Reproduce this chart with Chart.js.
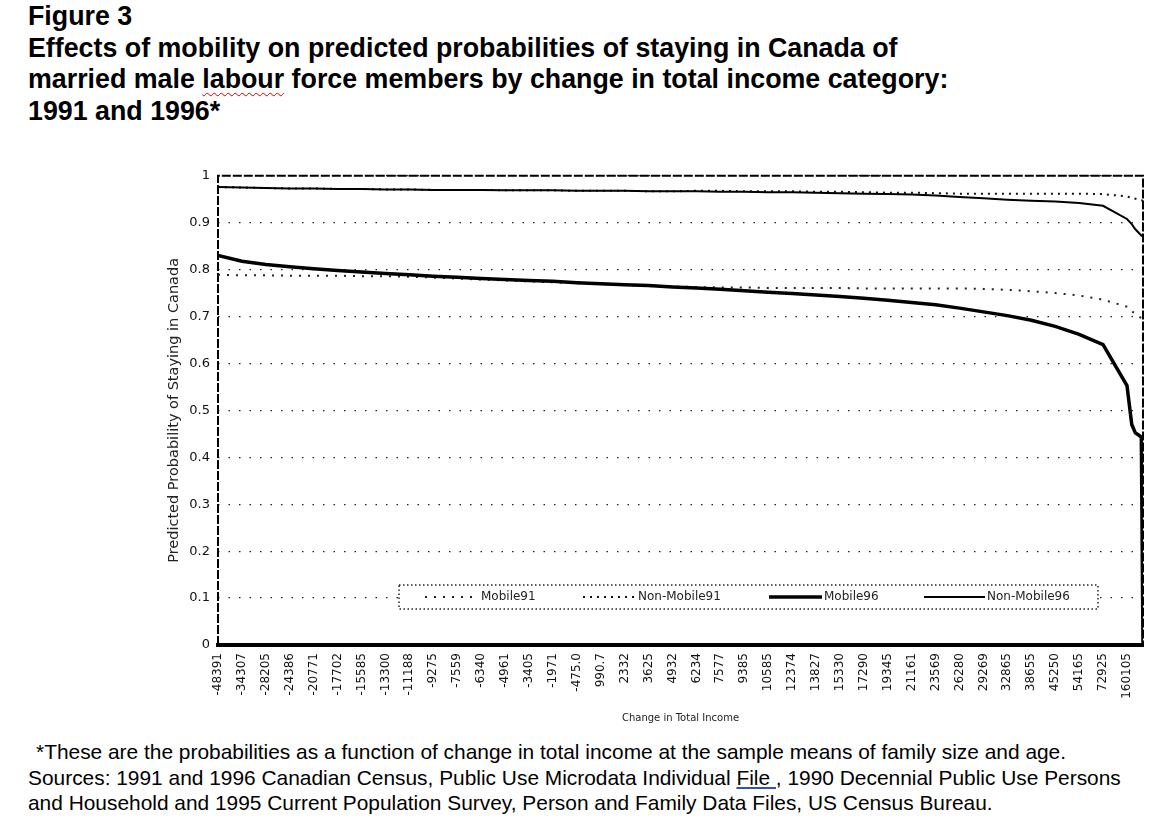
<!DOCTYPE html>
<html>
<head>
<meta charset="utf-8">
<title>Figure 3</title>
<script src="https://cdn.jsdelivr.net/npm/chart.js@4.4.1/dist/chart.umd.min.js"></script>
<style>
  body { margin: 0; background: #fff; width: 1169px; height: 820px; position: relative; overflow: hidden;
         font-family: "Liberation Sans", Arial, sans-serif; color: #000; }
  #title { position: absolute; left: 28px; top: 1px; font-weight: bold; font-size: 26.8px; line-height: 31.7px; white-space: nowrap; }
  .squiggle { text-decoration: underline wavy #d00000; text-decoration-thickness: 1px; text-underline-offset: 4px; }
  #chartBox { position: absolute; left: 150px; top: 160px; width: 1010px; height: 575px; }
  #note { position: absolute; left: 28px; top: 739px; font-size: 20.9px; line-height: 25.5px; white-space: nowrap; }
  .link { text-decoration: underline #3050c0; }
</style>
</head>
<body>
<div id="title">
  Figure 3<br>
  Effects of mobility on predicted probabilities of staying in Canada of<br>
  married male <span class="squiggle">labour</span> force members by change in total income category:<br>
  1991 and 1996*
</div>
<div id="chartBox"><canvas id="grafico"></canvas></div>
<div id="note">
  <span style="margin-left:8px">*These are the probabilities as a function of change in total income at the sample means of family size and age.</span><br>
  Sources: 1991 and 1996 Canadian Census, Public Use Microdata Individual <span class="link">File ,</span> 1990 Decennial Public Use Persons<br>
  and Household and 1995 Current Population Survey, Person and Family Data Files, US Census Bureau.
</div>

<script>
// === DATA ===
const tickLabels = ['-48391', '-34307', '-28205', '-24386', '-20771', '-17702', '-15585', '-13300', '-11188', '-9275',
  '-7559', '-6340', '-4961', '-3405', '-1971', '-475.0', '990.7', '2332', '3625', '4932',
  '6234', '7577', '9385', '10585', '12374', '13827', '15330', '17290', '19345', '21161',
  '23569', '26280', '29269', '32865', '38655', '45250', '54165', '72925', '160105'];

// position of each observation along the (ranked) income axis, in tick units
const pos = [0, 1, 2, 3, 4, 5, 6, 7, 8, 9,
  10, 11, 12, 13, 14, 15, 16, 17, 18, 19,
  20, 21, 22, 23, 24, 25, 26, 27, 28, 29,
  30, 31, 32, 33, 34, 35, 36, 37, 38,
  38.2, 38.35, 38.5, 38.6, 38.67];

const mobile91 = [0.789, 0.788, 0.788, 0.787, 0.787, 0.787, 0.786, 0.786, 0.785, 0.783,
  0.781, 0.779, 0.777, 0.775, 0.773, 0.771, 0.769, 0.767, 0.765, 0.764,
  0.763, 0.762, 0.762, 0.761, 0.761, 0.761, 0.761, 0.760, 0.760, 0.760,
  0.760, 0.760, 0.759, 0.757, 0.754, 0.750, 0.745, 0.736, 0.721,
  0.712, 0.705, 0.700, 0.697, 0.694];

const nonMobile91 = [0.976, 0.975, 0.974, 0.973, 0.973, 0.972, 0.972, 0.971, 0.971, 0.970,
  0.970, 0.970, 0.969, 0.969, 0.969, 0.968, 0.968, 0.968, 0.967, 0.967,
  0.968, 0.968, 0.967, 0.967, 0.967, 0.966, 0.966, 0.965, 0.964, 0.964,
  0.963, 0.962, 0.962, 0.962, 0.962, 0.962, 0.962, 0.961, 0.956,
  0.953, 0.951, 0.949, 0.948, 0.947];

const mobile96 = [0.830, 0.818, 0.811, 0.806, 0.802, 0.798, 0.795, 0.792, 0.789, 0.786,
  0.784, 0.781, 0.779, 0.777, 0.775, 0.772, 0.770, 0.768, 0.766, 0.763,
  0.761, 0.758, 0.755, 0.752, 0.749, 0.746, 0.743, 0.739, 0.735, 0.730,
  0.725, 0.718, 0.710, 0.702, 0.692, 0.679, 0.662, 0.640, 0.553,
  0.470, 0.452, 0.447, 0.443, 0.000];

const nonMobile96 = [0.976, 0.975, 0.974, 0.973, 0.973, 0.972, 0.972, 0.971, 0.971, 0.970,
  0.970, 0.970, 0.969, 0.969, 0.969, 0.968, 0.968, 0.968, 0.967, 0.967,
  0.967, 0.966, 0.966, 0.965, 0.965, 0.964, 0.963, 0.962, 0.961, 0.960,
  0.958, 0.955, 0.952, 0.949, 0.947, 0.945, 0.942, 0.936, 0.908,
  0.897, 0.886, 0.878, 0.873, 0.870];

const toPoints = (vals) => vals.map((v, i) => ({ x: pos[i], y: v }));

// === PLUGINS: dashed frame + boxed legend inside the plot ===
const marco = {
  id: 'marco',
  beforeDatasetsDraw(chart) {
    const { ctx, chartArea: a } = chart;
    ctx.save();
    ctx.strokeStyle = '#000';
    ctx.lineWidth = 2;
    ctx.setLineDash([9, 2]);
    ctx.beginPath();
    ctx.moveTo(a.left, a.bottom);
    ctx.lineTo(a.left, a.top);
    ctx.lineTo(a.right, a.top);
    ctx.lineTo(a.right, a.bottom);
    ctx.stroke();
    ctx.restore();
  }
};

const leyenda = {
  id: 'leyenda',
  afterDatasetsDraw(chart) {
    const { ctx, chartArea: a } = chart;
    const x0 = a.left + 181, y0 = a.bottom - 60, w = 699, h = 24;
    // sample start, sample end, text start (relative to box)
    const slots = [[26, 79, 82], [184, 237, 239], [370, 423, 425], [525, 586, 588]];
    ctx.save();
    ctx.fillStyle = '#fff';
    ctx.fillRect(x0, y0, w, h);
    ctx.strokeStyle = '#222';
    ctx.lineWidth = 1.5;
    ctx.setLineDash([1.5, 2.5]);
    ctx.strokeRect(x0, y0, w, h);
    const yMid = y0 + h / 2;
    chart.data.datasets.forEach((ds, i) => {
      const [s0, s1, t0] = slots[i];
      ctx.strokeStyle = ds.borderColor;
      ctx.lineWidth = ds.borderWidth;
      ctx.setLineDash(ds.borderDash || []);
      ctx.beginPath();
      ctx.moveTo(x0 + s0, yMid);
      ctx.lineTo(x0 + s1, yMid);
      ctx.stroke();
      ctx.fillStyle = '#222';
      ctx.font = '12px "DejaVu Sans"';
      ctx.textBaseline = 'middle';
      ctx.fillText(ds.label, x0 + t0, yMid);
    });
    ctx.restore();
  }
};

new Chart(document.getElementById('grafico'), {
  type: 'line',
  data: {
    datasets: [
      { label: 'Mobile91', data: toPoints(mobile91), borderColor: '#222', borderWidth: 2,
        borderDash: [2, 7], pointRadius: 0, order: 2 },
      { label: 'Non-Mobile91', data: toPoints(nonMobile91), borderColor: '#111', borderWidth: 2,
        borderDash: [2, 5], pointRadius: 0, order: 2 },
      { label: 'Mobile96', data: toPoints(mobile96), borderColor: '#000', borderWidth: 3.5,
        pointRadius: 0, order: 1 },
      { label: 'Non-Mobile96', data: toPoints(nonMobile96), borderColor: '#000', borderWidth: 2,
        pointRadius: 0, order: 1 }
    ]
  },
  options: {
    responsive: true,
    maintainAspectRatio: false,
    animation: false,
    layout: { padding: { top: 15, right: 17, left: 0, bottom: 0 } },
    plugins: { legend: { display: false }, tooltip: { enabled: false } },
    scales: {
      x: {
        type: 'linear',
        min: 0,
        max: 38.67,
        afterFit(s) { s.height = 90; },
        grid: { display: false, drawTicks: false },
        border: { display: true, width: 4, color: '#000' },
        ticks: {
          stepSize: 1,
          autoSkip: false,
          includeBounds: false,
          minRotation: 90,
          maxRotation: 90,
          padding: 8,
          color: '#111',
          font: { family: 'DejaVu Sans', size: 12 },
          callback: (v) => tickLabels[v] ?? ''
        },
        title: {
          display: true,
          text: 'Change in Total Income',
          color: '#222',
          font: { family: 'DejaVu Sans', size: 10 },
          padding: { top: 0, bottom: 11 }
        }
      },
      y: {
        min: 0,
        max: 1,
        afterFit(s) { s.width = 68; },
        grid: { color: '#222', lineWidth: 1.3, drawTicks: false },
        border: { display: false, dash: [1.5, 9] },
        ticks: {
          stepSize: 0.1,
          padding: 8,
          color: '#111',
          font: { family: 'DejaVu Sans', size: 13 },
          callback: (v) => (v === 0 ? '0' : v === 1 ? '1' : Number(v).toFixed(1))
        },
        title: {
          display: true,
          text: 'Predicted Probability of Staying in Canada',
          color: '#222',
          font: { family: 'DejaVu Sans', size: 14.5 },
          padding: { top: 16, bottom: 0 }
        }
      }
    }
  },
  plugins: [marco, leyenda]
});
</script>
</body>
</html>
